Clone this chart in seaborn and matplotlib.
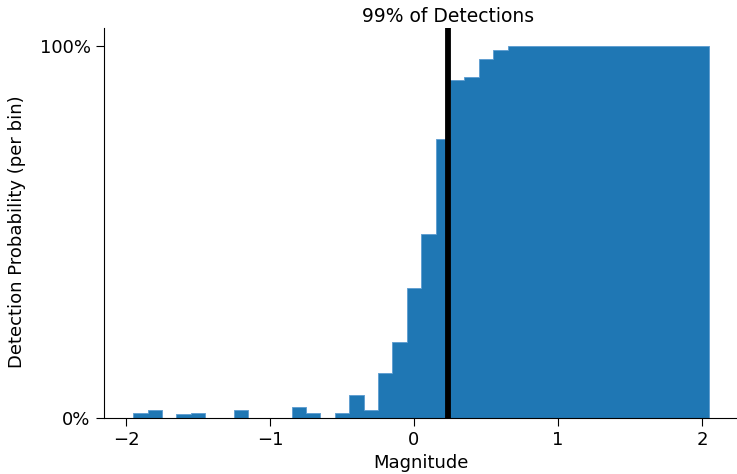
import numpy as np
import pandas as pd
import matplotlib
matplotlib.use("Agg")
import matplotlib.pyplot as plt
import seaborn as sns
from matplotlib.ticker import PercentFormatter

sns.set_style("ticks", rc={"axes.edgecolor": "black", "text.color": "black",
                           "axes.labelcolor": "black", "xtick.color": "black",
                           "ytick.color": "black"})
plt.rcParams['font.family'] = ['DejaVu Sans']

# bin centres (magnitude) and detection probability per bin
mag_centres = [-1.9, -1.8, -1.7, -1.6, -1.5, -1.4, -1.3, -1.2, -1.1, -1.0,
               -0.9, -0.8, -0.7, -0.6, -0.5, -0.4, -0.3, -0.2, -0.1, 0.0,
               0.1, 0.2, 0.3, 0.4, 0.5, 0.6, 0.7, 0.8, 0.9, 1.0,
               1.1, 1.2, 1.3, 1.4, 1.5, 1.6, 1.7, 1.8, 1.9, 2.0]
det_prob = [0.014, 0.022, 0.0, 0.012, 0.014, 0.0, 0.0, 0.023, 0.0, 0.0,
            0.0, 0.029, 0.013, 0.0, 0.013, 0.061, 0.022, 0.121, 0.205, 0.349,
            0.494, 0.75, 0.909, 0.915, 0.964, 0.989, 1.0, 1.0, 1.0, 1.0,
            1.0, 1.0, 1.0, 1.0, 1.0, 1.0, 1.0, 1.0, 1.0, 1.0]
cut_99 = 0.234
label_99 = "99% of Detections"

df = pd.DataFrame({"Magnitude": mag_centres, "prob": det_prob})
edges = [round(e, 2) for e in np.arange(-1.95, 2.06, 0.1)]

fig = plt.figure(figsize=(7.37, 4.74), dpi=100)
ax = fig.add_axes([0.141, 0.118, 0.859, 0.823])

sns.histplot(data=df, x="Magnitude", weights="prob", bins=edges,
             element="step", fill=True, alpha=1, linewidth=0.6,
             color="#1f77b4", edgecolor="#5b9bd0", ax=ax)

ax.axvline(cut_99, color="black", linewidth=4.2)
ax.text(cut_99, 1.052, label_99, ha="center", va="bottom", fontsize=13.5)

ax.set_xlim(-2.153, 2.243)
ax.set_ylim(0, 1.048)
ax.set_xticks([-2, -1, 0, 1, 2])
ax.set_yticks([0, 1])
ax.yaxis.set_major_formatter(PercentFormatter(1.0, decimals=0))
ax.tick_params(labelsize=13, length=6)
ax.set_xlabel("Magnitude", fontsize=13, labelpad=3.5)
ax.set_ylabel("Detection Probability (per bin)", fontsize=13)
ax.yaxis.set_label_coords(-0.123, 0.477)
sns.despine(ax=ax)

fig.savefig("out.png", dpi=100)
